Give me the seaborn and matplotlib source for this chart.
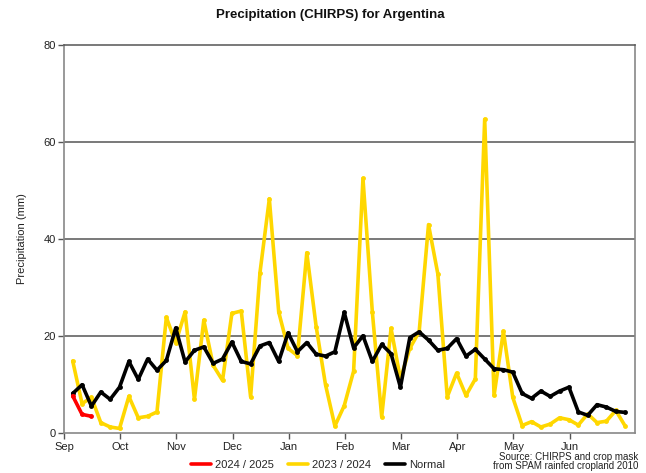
import numpy as np
import pandas as pd
import matplotlib
matplotlib.use("Agg")
import matplotlib.pyplot as plt
from matplotlib.lines import Line2D
import seaborn as sns

# ---- data (pentadal precipitation, mm) ----
months = ["Sep", "Oct", "Nov", "Dec", "Jan", "Feb", "Mar", "Apr", "May", "Jun"]

normal = [8.2, 10.0, 5.6, 8.5, 7.0, 9.5, 14.8, 11.1, 15.3, 13.0,
          15.0, 21.7, 14.7, 17.1, 17.8, 14.4, 15.3, 18.8, 14.8, 14.3,
          18.0, 18.7, 14.8, 20.7, 16.8, 18.7, 16.3, 15.9, 16.8, 24.9,
          17.6, 20.1, 14.8, 18.3, 16.4, 9.5, 19.7, 20.9, 19.2, 17.1,
          17.5, 19.5, 15.9, 17.3, 15.3, 13.3, 13.1, 12.6, 8.2, 7.2,
          8.7, 7.6, 8.7, 9.5, 4.4, 3.7, 5.9, 5.4, 4.5, 4.3]

season_2324 = [14.9, 6.1, 7.4, 2.2, 1.3, 1.0, 7.6, 3.2, 3.5, 4.4,
               23.9, 18.6, 25.0, 7.0, 23.3, 14.0, 10.9, 24.7, 25.2, 7.5,
               33.1, 48.3, 25.0, 17.5, 16.0, 37.2, 22.0, 10.0, 1.5, 5.7,
               12.8, 52.5, 25.0, 3.4, 21.6, 11.2, 17.5, 20.9, 43.0, 32.8,
               7.5, 12.4, 7.8, 11.2, 64.7, 7.8, 21.0, 7.4, 1.6, 2.4,
               1.3, 1.9, 3.2, 2.8, 1.7, 4.0, 2.2, 2.5, 4.7, 1.5]

season_2425 = [7.7, 3.9, 3.5]

labels = ["2024 / 2025", "2023 / 2024", "Normal"]
colors = {"2024 / 2025": "#ff0000", "2023 / 2024": "#ffd700", "Normal": "#000000"}

frames = []
for name, vals in [("2023 / 2024", season_2324), ("Normal", normal), ("2024 / 2025", season_2425)]:
    frames.append(pd.DataFrame({"pentad": np.arange(len(vals)), "precip": vals, "series": name}))
df = pd.concat(frames, ignore_index=True)

sns.set_theme(style="white")
plt.rcParams['font.family'] = ['Liberation Sans', 'DejaVu Sans']

W, H = 646, 473
fig = plt.figure(figsize=(W / 100, H / 100), dpi=100)
L, R, T, B = 64, 634.5, 45, 433.3
ax = fig.add_axes([L / W, 1 - B / H, (R - L) / W, (B - T) / H])

for name in ["2023 / 2024", "Normal", "2024 / 2025"]:
    sub = df[df["series"] == name]
    sns.lineplot(data=sub, x="pentad", y="precip", ax=ax, color=colors[name],
                 linewidth=2.6, marker="o", markersize=3.5, markeredgewidth=0,
                 legend=False, zorder=3)

ax.set_xlim(-0.93, 60.0)
ax.set_ylim(0, 80)
ax.set_yticks([0, 20, 40, 60, 80])
ax.set_xticks([6 * m - 0.93 for m in range(len(months))])
ax.set_xticklabels(months)
ax.set_xlabel("")
ax.set_ylabel("")
ax.grid(False)
for yv in [20, 40, 60]:
    ax.axhline(yv, color="#555555", linewidth=1.1, zorder=1)

for s in ["left", "bottom", "right"]:
    ax.spines[s].set_color("#888888")
    ax.spines[s].set_linewidth(1.2)
ax.spines["top"].set_color("#555555")
ax.spines["top"].set_linewidth(1.1)

ax.tick_params(axis="both", which="major", direction="out", length=4, width=1,
               color="#555555", labelsize=8, labelcolor="#222222", pad=2)
ax.tick_params(left=True, bottom=True)

fig.text(22 / W, 1 - 239 / H, "Precipitation (mm)", rotation=90, ha="center", va="center",
         fontsize=8, color="#222222")
fig.text(330 / W, 1 - 15 / H, "Precipitation (CHIRPS) for Argentina", ha="center", va="center",
         fontsize=9.5, fontweight="bold", color="#111111")

handles = [Line2D([0], [0], color=colors[n], linewidth=2.6) for n in labels]
fig.legend(handles, labels, loc="center", bbox_to_anchor=(318 / W, 1 - 465 / H), ncol=3,
           frameon=False, fontsize=8, handlelength=1.8, handletextpad=0.35, columnspacing=1.3)

fig.text(638 / W, 1 - 457 / H, "Source: CHIRPS and crop mask", ha="right", va="center",
         fontsize=7, color="#222222")
fig.text(638 / W, 1 - 466 / H, "from SPAM rainfed cropland 2010", ha="right", va="center",
         fontsize=7, color="#222222")

fig.savefig("out.png", dpi=100)
